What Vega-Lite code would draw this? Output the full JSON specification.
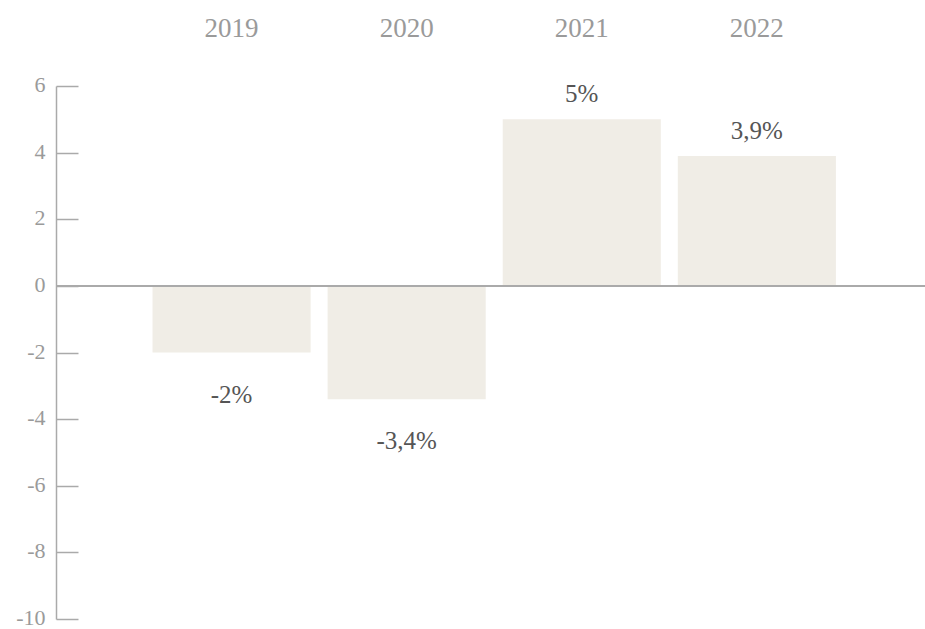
{
  "$schema": "https://vega.github.io/schema/vega-lite/v6.json",
  "width": 869,
  "height": 533,
  "autosize": {"type": "none"},
  "padding": {"left": 56, "top": 86, "right": 0, "bottom": 10},
  "background": "white",
  "config": {"view": {"stroke": null}, "font": "Liberation Serif"},
  "data": {"values": [
    {"year": "2019", "value": -2, "label": "-2%"},
    {"year": "2020", "value": -3.4, "label": "-3,4%"},
    {"year": "2021", "value": 5, "label": "5%"},
    {"year": "2022", "value": 3.9, "label": "3,9%"}
  ]},
  "encoding": {
    "x": {
      "field": "year", "type": "nominal",
      "scale": {"paddingInner": 0.097, "paddingOuter": 0.53, "align": 0.52},
      "axis": {"orient": "top", "title": null, "domain": false, "ticks": false, "labelPadding": 44, "labelAngle": 0, "labelFontSize": 27, "labelColor": "#9a9a9a", "labelFont": "Liberation Serif"}
    },
    "y": {
      "field": "value", "type": "quantitative",
      "scale": {"domain": [-10, 6], "nice": false},
      "axis": {"title": null, "values": [-10, -8, -6, -4, -2, 0, 2, 4, 6], "labelExpr": "'' + datum.value", "grid": false, "domainColor": "#aaaaaa", "domainWidth": 1.5, "tickColor": "#aaaaaa", "tickWidth": 1.5, "tickSize": -22, "labelPadding": 33, "labelFontSize": 22, "labelOffset": -1.5, "labelColor": "#9a9a9a", "labelFont": "Liberation Serif"}
    }
  },
  "layer": [
    {"mark": {"type": "bar", "color": "#f0ede6"}},
    {"mark": {"type": "rule", "color": "#aaaaaa", "strokeWidth": 2}, "encoding": {"y": {"datum": 0}, "x": {"value": 0}, "x2": {"value": 869}}},
    {"transform": [{"filter": "datum.value > 0"}], "mark": {"type": "text", "baseline": "alphabetic", "dy": -17, "fontSize": 25, "color": "#555555"}, "encoding": {"text": {"field": "label"}}},
    {"transform": [{"filter": "datum.value < 0"}], "mark": {"type": "text", "baseline": "top", "dy": 30, "fontSize": 25, "color": "#555555"}, "encoding": {"text": {"field": "label"}}}
  ]
}
